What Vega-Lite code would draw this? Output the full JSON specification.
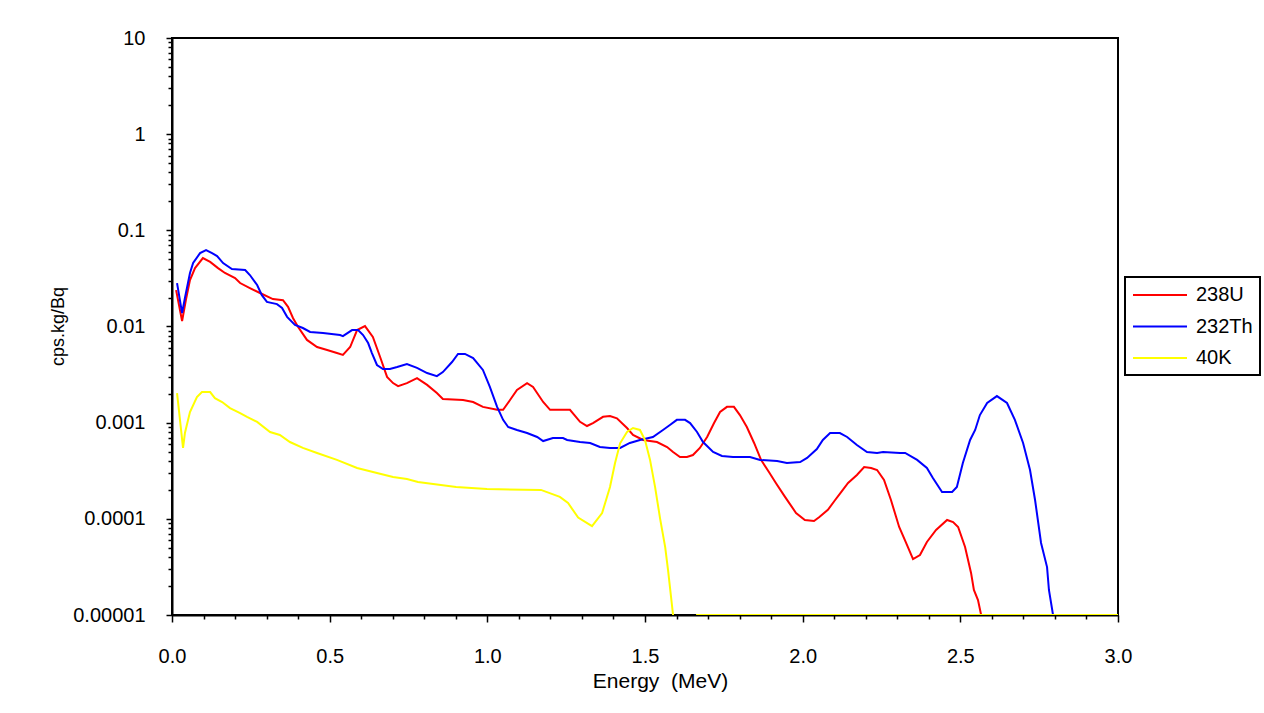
{
  "$schema": "https://vega.github.io/schema/vega-lite/v6.json",
  "autosize": {"type": "none"},
  "padding": {"left": 172, "top": 38, "right": 146, "bottom": 98},
  "width": 946,
  "height": 577,
  "background": "white",
  "config": {"view": {"stroke": "black", "strokeWidth": 2}, "font": "Liberation Sans"},
  "datasets": {
    "spec": [
      {"s":"238U","e":0.013,"v":0.0239},{"s":"238U","e":0.032,"v":0.0114},{"s":"238U","e":0.044,"v":0.0188},{"s":"238U","e":0.057,"v":0.0304},{"s":"238U","e":0.073,"v":0.0405},{"s":"238U","e":0.098,"v":0.0515},{"s":"238U","e":0.121,"v":0.0469},{"s":"238U","e":0.146,"v":0.0405},{"s":"238U","e":0.168,"v":0.036},{"s":"238U","e":0.2,"v":0.0319},{"s":"238U","e":0.216,"v":0.0283},{"s":"238U","e":0.247,"v":0.0251},{"s":"238U","e":0.279,"v":0.0223},{"s":"238U","e":0.32,"v":0.0193},{"s":"238U","e":0.352,"v":0.0188},{"s":"238U","e":0.368,"v":0.016},{"s":"238U","e":0.384,"v":0.0122},{"s":"238U","e":0.4,"v":0.00989},{"s":"238U","e":0.428,"v":0.00725},{"s":"238U","e":0.46,"v":0.00612},{"s":"238U","e":0.492,"v":0.0057},{"s":"238U","e":0.523,"v":0.0053},{"s":"238U","e":0.542,"v":0.00506},{"s":"238U","e":0.565,"v":0.00612},{"s":"238U","e":0.587,"v":0.00918},{"s":"238U","e":0.612,"v":0.0101},{"s":"238U","e":0.637,"v":0.00778},{"s":"238U","e":0.66,"v":0.00482},{"s":"238U","e":0.682,"v":0.00299},{"s":"238U","e":0.701,"v":0.00258},{"s":"238U","e":0.717,"v":0.0024},{"s":"238U","e":0.745,"v":0.00258},{"s":"238U","e":0.777,"v":0.00291},{"s":"238U","e":0.809,"v":0.00247},{"s":"238U","e":0.84,"v":0.00203},{"s":"238U","e":0.859,"v":0.00176},{"s":"238U","e":0.923,"v":0.00172},{"s":"238U","e":0.955,"v":0.00164},{"s":"238U","e":0.986,"v":0.00146},{"s":"238U","e":1.031,"v":0.00136},{"s":"238U","e":1.05,"v":0.00136},{"s":"238U","e":1.072,"v":0.00172},{"s":"238U","e":1.094,"v":0.00219},{"s":"238U","e":1.126,"v":0.00258},{"s":"238U","e":1.145,"v":0.00235},{"s":"238U","e":1.177,"v":0.00164},{"s":"238U","e":1.199,"v":0.00136},{"s":"238U","e":1.262,"v":0.00136},{"s":"238U","e":1.294,"v":0.00102},{"s":"238U","e":1.316,"v":0.000923},{"s":"238U","e":1.335,"v":0.00099},{"s":"238U","e":1.367,"v":0.00115},{"s":"238U","e":1.389,"v":0.00117},{"s":"238U","e":1.411,"v":0.00111},{"s":"238U","e":1.443,"v":0.000879},{"s":"238U","e":1.462,"v":0.000745},{"s":"238U","e":1.494,"v":0.000661},{"s":"238U","e":1.538,"v":0.000629},{"s":"238U","e":1.57,"v":0.000558},{"s":"238U","e":1.589,"v":0.000495},{"s":"238U","e":1.611,"v":0.00044},{"s":"238U","e":1.633,"v":0.00044},{"s":"238U","e":1.652,"v":0.000461},{"s":"238U","e":1.674,"v":0.000546},{"s":"238U","e":1.697,"v":0.00071},{"s":"238U","e":1.719,"v":0.00099},{"s":"238U","e":1.738,"v":0.00129},{"s":"238U","e":1.76,"v":0.00146},{"s":"238U","e":1.782,"v":0.00146},{"s":"238U","e":1.801,"v":0.0012},{"s":"238U","e":1.823,"v":0.000902},{"s":"238U","e":1.846,"v":0.000615},{"s":"238U","e":1.868,"v":0.00041},{"s":"238U","e":1.893,"v":0.000307},{"s":"238U","e":1.915,"v":0.000236},{"s":"238U","e":1.944,"v":0.000169},{"s":"238U","e":1.979,"v":0.000115},{"s":"238U","e":2.007,"v":0.0000973},{"s":"238U","e":2.036,"v":0.0000948},{"s":"238U","e":2.052,"v":0.000104},{"s":"238U","e":2.08,"v":0.000124},{"s":"238U","e":2.103,"v":0.000157},{"s":"238U","e":2.122,"v":0.00019},{"s":"238U","e":2.144,"v":0.000236},{"s":"238U","e":2.172,"v":0.000286},{"s":"238U","e":2.195,"v":0.000346},{"s":"238U","e":2.217,"v":0.000338},{"s":"238U","e":2.236,"v":0.000322},{"s":"238U","e":2.258,"v":0.000254},{"s":"238U","e":2.28,"v":0.000157},{"s":"238U","e":2.306,"v":0.0000822},{"s":"238U","e":2.328,"v":0.0000561},{"s":"238U","e":2.35,"v":0.0000382},{"s":"238U","e":2.372,"v":0.000042},{"s":"238U","e":2.394,"v":0.0000574},{"s":"238U","e":2.423,"v":0.0000766},{"s":"238U","e":2.458,"v":0.0000973},{"s":"238U","e":2.477,"v":0.0000927},{"s":"238U","e":2.493,"v":0.0000822},{"s":"238U","e":2.515,"v":0.0000509},{"s":"238U","e":2.534,"v":0.0000274},{"s":"238U","e":2.543,"v":0.0000182},{"s":"238U","e":2.556,"v":0.0000143},{"s":"238U","e":2.566,"v":0.00001},
      {"s":"232Th","e":0.016,"v":0.0283},{"s":"232Th","e":0.032,"v":0.0138},{"s":"232Th","e":0.041,"v":0.0198},{"s":"232Th","e":0.057,"v":0.036},{"s":"232Th","e":0.067,"v":0.0457},{"s":"232Th","e":0.089,"v":0.058},{"s":"232Th","e":0.108,"v":0.0624},{"s":"232Th","e":0.127,"v":0.058},{"s":"232Th","e":0.143,"v":0.054},{"s":"232Th","e":0.162,"v":0.0457},{"s":"232Th","e":0.19,"v":0.0396},{"s":"232Th","e":0.232,"v":0.0387},{"s":"232Th","e":0.247,"v":0.0343},{"s":"232Th","e":0.27,"v":0.027},{"s":"232Th","e":0.285,"v":0.0212},{"s":"232Th","e":0.301,"v":0.018},{"s":"232Th","e":0.333,"v":0.0171},{"s":"232Th","e":0.349,"v":0.0156},{"s":"232Th","e":0.365,"v":0.0126},{"s":"232Th","e":0.39,"v":0.0104},{"s":"232Th","e":0.415,"v":0.00964},{"s":"232Th","e":0.438,"v":0.00877},{"s":"232Th","e":0.479,"v":0.00857},{"s":"232Th","e":0.533,"v":0.00815},{"s":"232Th","e":0.542,"v":0.00795},{"s":"232Th","e":0.571,"v":0.00918},{"s":"232Th","e":0.59,"v":0.00918},{"s":"232Th","e":0.606,"v":0.00815},{"s":"232Th","e":0.622,"v":0.00673},{"s":"232Th","e":0.634,"v":0.0053},{"s":"232Th","e":0.65,"v":0.00398},{"s":"232Th","e":0.669,"v":0.00361},{"s":"232Th","e":0.691,"v":0.00361},{"s":"232Th","e":0.714,"v":0.00379},{"s":"232Th","e":0.745,"v":0.00407},{"s":"232Th","e":0.777,"v":0.00371},{"s":"232Th","e":0.809,"v":0.00328},{"s":"232Th","e":0.84,"v":0.00305},{"s":"232Th","e":0.859,"v":0.00336},{"s":"232Th","e":0.888,"v":0.00427},{"s":"232Th","e":0.907,"v":0.00518},{"s":"232Th","e":0.929,"v":0.00518},{"s":"232Th","e":0.955,"v":0.0047},{"s":"232Th","e":0.986,"v":0.00353},{"s":"232Th","e":1.008,"v":0.00235},{"s":"232Th","e":1.031,"v":0.00146},{"s":"232Th","e":1.05,"v":0.00107},{"s":"232Th","e":1.066,"v":0.000902},{"s":"232Th","e":1.094,"v":0.00084},{"s":"232Th","e":1.126,"v":0.00078},{"s":"232Th","e":1.158,"v":0.00071},{"s":"232Th","e":1.177,"v":0.000644},{"s":"232Th","e":1.208,"v":0.000692},{"s":"232Th","e":1.24,"v":0.000692},{"s":"232Th","e":1.253,"v":0.000661},{"s":"232Th","e":1.294,"v":0.000629},{"s":"232Th","e":1.326,"v":0.000615},{"s":"232Th","e":1.357,"v":0.000558},{"s":"232Th","e":1.389,"v":0.000546},{"s":"232Th","e":1.421,"v":0.000546},{"s":"232Th","e":1.452,"v":0.000615},{"s":"232Th","e":1.484,"v":0.000661},{"s":"232Th","e":1.525,"v":0.00071},{"s":"232Th","e":1.557,"v":0.00084},{"s":"232Th","e":1.579,"v":0.000946},{"s":"232Th","e":1.601,"v":0.00107},{"s":"232Th","e":1.627,"v":0.00107},{"s":"232Th","e":1.643,"v":0.00099},{"s":"232Th","e":1.665,"v":0.0008},{"s":"232Th","e":1.684,"v":0.000629},{"s":"232Th","e":1.716,"v":0.000495},{"s":"232Th","e":1.744,"v":0.00045},{"s":"232Th","e":1.779,"v":0.00044},{"s":"232Th","e":1.833,"v":0.00044},{"s":"232Th","e":1.865,"v":0.00041},{"s":"232Th","e":1.919,"v":0.000399},{"s":"232Th","e":1.95,"v":0.000381},{"s":"232Th","e":1.992,"v":0.00039},{"s":"232Th","e":2.014,"v":0.00043},{"s":"232Th","e":2.045,"v":0.000532},{"s":"232Th","e":2.064,"v":0.000661},{"s":"232Th","e":2.087,"v":0.00078},{"s":"232Th","e":2.118,"v":0.00078},{"s":"232Th","e":2.141,"v":0.00071},{"s":"232Th","e":2.172,"v":0.000586},{"s":"232Th","e":2.204,"v":0.000495},{"s":"232Th","e":2.236,"v":0.000484},{"s":"232Th","e":2.255,"v":0.000495},{"s":"232Th","e":2.309,"v":0.000484},{"s":"232Th","e":2.325,"v":0.000484},{"s":"232Th","e":2.363,"v":0.00041},{"s":"232Th","e":2.394,"v":0.000338},{"s":"232Th","e":2.413,"v":0.000266},{"s":"232Th","e":2.442,"v":0.00019},{"s":"232Th","e":2.474,"v":0.00019},{"s":"232Th","e":2.489,"v":0.000214},{"s":"232Th","e":2.508,"v":0.000381},{"s":"232Th","e":2.531,"v":0.000661},{"s":"232Th","e":2.547,"v":0.00084},{"s":"232Th","e":2.562,"v":0.0012},{"s":"232Th","e":2.585,"v":0.0016},{"s":"232Th","e":2.616,"v":0.00189},{"s":"232Th","e":2.648,"v":0.0016},{"s":"232Th","e":2.673,"v":0.00107},{"s":"232Th","e":2.699,"v":0.000615},{"s":"232Th","e":2.721,"v":0.000322},{"s":"232Th","e":2.737,"v":0.000157},{"s":"232Th","e":2.756,"v":0.0000561},{"s":"232Th","e":2.775,"v":0.0000315},{"s":"232Th","e":2.781,"v":0.0000182},{"s":"232Th","e":2.794,"v":0.00001},
      {"s":"40K","g":1,"e":0.016,"v":0.00203},{"s":"40K","g":1,"e":0.035,"v":0.000546},{"s":"40K","g":1,"e":0.041,"v":0.00078},{"s":"40K","g":1,"e":0.057,"v":0.00129},{"s":"40K","g":1,"e":0.079,"v":0.00185},{"s":"40K","g":1,"e":0.095,"v":0.00208},{"s":"40K","g":1,"e":0.121,"v":0.00208},{"s":"40K","g":1,"e":0.136,"v":0.0018},{"s":"40K","g":1,"e":0.159,"v":0.00164},{"s":"40K","g":1,"e":0.184,"v":0.00142},{"s":"40K","g":1,"e":0.216,"v":0.00126},{"s":"40K","g":1,"e":0.238,"v":0.00115},{"s":"40K","g":1,"e":0.27,"v":0.00102},{"s":"40K","g":1,"e":0.311,"v":0.0008},{"s":"40K","g":1,"e":0.342,"v":0.000745},{"s":"40K","g":1,"e":0.374,"v":0.000629},{"s":"40K","g":1,"e":0.415,"v":0.000546},{"s":"40K","g":1,"e":0.46,"v":0.000484},{"s":"40K","g":1,"e":0.523,"v":0.00041},{"s":"40K","g":1,"e":0.587,"v":0.000338},{"s":"40K","g":1,"e":0.65,"v":0.0003},{"s":"40K","g":1,"e":0.701,"v":0.000272},{"s":"40K","g":1,"e":0.745,"v":0.000259},{"s":"40K","g":1,"e":0.78,"v":0.000242},{"s":"40K","g":1,"e":0.901,"v":0.000214},{"s":"40K","g":1,"e":0.999,"v":0.000204},{"s":"40K","g":1,"e":1.17,"v":0.0002},{"s":"40K","g":1,"e":1.23,"v":0.000169},{"s":"40K","g":1,"e":1.256,"v":0.000146},{"s":"40K","g":1,"e":1.288,"v":0.000103},{"s":"40K","g":1,"e":1.332,"v":0.0000841},{"s":"40K","g":1,"e":1.364,"v":0.000115},{"s":"40K","g":1,"e":1.389,"v":0.000214},{"s":"40K","g":1,"e":1.405,"v":0.000381},{"s":"40K","g":1,"e":1.421,"v":0.00061},{"s":"40K","g":1,"e":1.443,"v":0.0008},{"s":"40K","g":1,"e":1.462,"v":0.00088},{"s":"40K","g":1,"e":1.484,"v":0.00084},{"s":"40K","g":1,"e":1.5,"v":0.00066},{"s":"40K","g":1,"e":1.516,"v":0.00041},{"s":"40K","g":1,"e":1.532,"v":0.000214},{"s":"40K","g":1,"e":1.548,"v":0.0001},{"s":"40K","g":1,"e":1.564,"v":0.0000509},{"s":"40K","g":1,"e":1.573,"v":0.0000294},{"s":"40K","g":1,"e":1.589,"v":0.00001},
      {"s":"40K","g":2,"e":1.662,"v":0.00001},{"s":"40K","g":2,"e":3.0,"v":0.00001}
    ]
  },
  "data": {"name": "spec"},
  "layer": [
    {
      "mark": {"type": "line", "opacity": 0, "clip": true},
      "encoding": {
        "x": {"field": "e", "type": "quantitative", "scale": {"domain": [0, 3], "nice": false},
          "axis": {"orient": "bottom", "values": [0.1,0.2,0.3,0.4,0.6,0.7,0.8,0.9,1.1,1.2,1.3,1.4,1.6,1.7,1.8,1.9,2.1,2.2,2.3,2.4,2.6,2.7,2.8,2.9], "labels": false, "domain": false, "grid": false, "title": null, "tickSize": 4, "tickColor": "black", "tickWidth": 1.5}},
        "y": {"field": "v", "type": "quantitative", "scale": {"type": "log", "domain": [0.00001, 10], "nice": false},
          "axis": {"orient": "left", "values": [0.00002,0.00003,0.00004,0.00005,0.00006,0.00007,0.00008,0.00009,0.0002,0.0003,0.0004,0.0005,0.0006,0.0007,0.0008,0.0009,0.002,0.003,0.004,0.005,0.006,0.007,0.008,0.009,0.02,0.03,0.04,0.05,0.06,0.07,0.08,0.09,0.2,0.3,0.4,0.5,0.6,0.7,0.8,0.9,2,3,4,5,6,7,8,9], "labels": false, "domain": false, "grid": false, "title": null, "tickSize": 4, "tickColor": "black", "tickWidth": 1.5}}
      }
    },
    {
      "mark": {"type": "line", "strokeWidth": 2, "clip": true},
      "encoding": {
        "x": {"field": "e", "type": "quantitative", "scale": {"domain": [0, 3], "nice": false},
          "axis": {"orient": "bottom", "values": [0, 0.5, 1, 1.5, 2, 2.5, 3], "format": ".1f", "grid": false, "tickSize": 7, "tickColor": "black", "tickWidth": 1.5, "domainColor": "black", "domainWidth": 2, "labelFontSize": 20, "labelColor": "black", "labelPadding": 24, "labelFlush": false, "labelOverlap": false, "title": "Energy\u00a0\u00a0(MeV)", "titleFontSize": 21, "titleFontWeight": "normal", "titleColor": "black", "titleX": 488, "titleY": 66, "titleBaseline": "middle", "titleAlign": "center"}},
        "y": {"field": "v", "type": "quantitative", "scale": {"type": "log", "domain": [0.00001, 10], "nice": false},
          "axis": {"orient": "left", "values": [0.00001, 0.0001, 0.001, 0.01, 0.1, 1, 10], "format": "~g", "grid": false, "tickSize": 6, "tickColor": "black", "tickWidth": 1.5, "domainColor": "black", "domainWidth": 2, "labelFontSize": 20, "labelColor": "black", "labelPadding": 21, "labelBaseline": "middle", "labelFlush": false, "labelOverlap": false, "title": "cps.kg/Bq", "titleFontSize": 18, "titleFontWeight": "normal", "titleColor": "black", "titleX": -114, "titleY": 288, "titleAngle": -90, "titleBaseline": "middle", "titleAlign": "center"}},
        "color": {"field": "s", "type": "nominal", "sort": ["238U", "232Th", "40K"],
          "scale": {"domain": ["238U", "232Th", "40K"], "range": ["#ff0000", "#0000ff", "#ffff00"]},
          "legend": {"orient": "none", "legendX": 953, "legendY": 239, "title": null, "strokeColor": "black", "padding": 7, "labelFontSize": 20, "labelColor": "black", "symbolType": "M-1,0H4.4", "symbolSize": 400, "symbolStrokeWidth": 2, "rowPadding": 10.5, "labelOffset": 42,
            "encode": {"legend": {"update": {"strokeWidth": {"value": 2}}}}}},
        "detail": {"field": "g", "type": "nominal"}
      }
    }
  ],
  "resolve": {"axis": {"x": "independent", "y": "independent"}}
}
